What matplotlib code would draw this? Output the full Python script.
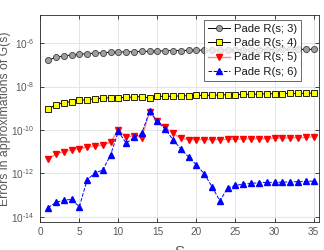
import numpy as np
import matplotlib
matplotlib.use("Agg")
import matplotlib.pyplot as plt

s = list(range(1, 36))

pade3 = [1.66e-7, 2.19e-7, 2.57e-7, 2.88e-7, 3.09e-7, 3.31e-7, 3.47e-7, 3.63e-7, 3.80e-7, 3.89e-7,
         3.98e-7, 4.07e-7, 4.17e-7, 4.2e-7, 4.3e-7, 4.5e-7, 4.6e-7, 4.6e-7, 4.7e-7, 4.7e-7,
         4.8e-7, 4.8e-7, 4.9e-7, 4.9e-7, 5.0e-7, 5.0e-7, 5.0e-7, 5.1e-7, 5.1e-7, 5.1e-7,
         5.2e-7, 5.2e-7, 5.2e-7, 5.2e-7, 5.25e-7]
pade4 = [9.3e-10, 1.45e-9, 1.78e-9, 2.04e-9, 2.29e-9, 2.5e-9, 2.7e-9, 2.95e-9, 3.0e-9, 3.1e-9,
         3.15e-9, 3.3e-9, 3.45e-9, 3.0e-9, 3.55e-9, 3.5e-9, 3.6e-9, 3.7e-9, 3.8e-9, 3.9e-9,
         3.95e-9, 4.0e-9, 4.1e-9, 4.2e-9, 4.3e-9, 4.35e-9, 4.4e-9, 4.5e-9, 4.6e-9, 4.7e-9,
         4.75e-9, 4.8e-9, 4.85e-9, 4.9e-9, 5.0e-9]
pade5 = [4.7e-12, 7.6e-12, 1.0e-11, 1.2e-11, 1.38e-11, 1.58e-11, 1.78e-11, 2.0e-11, 2.75e-11, 1.0e-10,
         4.5e-11, 5.5e-11, 4.3e-11, 7.0e-10, 2.5e-10, 1.35e-10, 6.9e-11, 4.2e-11, 3.6e-11, 3.6e-11,
         3.6e-11, 3.6e-11, 3.6e-11, 3.7e-11, 3.7e-11, 3.8e-11, 3.9e-11, 3.9e-11, 4.0e-11, 4.1e-11,
         4.2e-11, 4.3e-11, 4.4e-11, 4.5e-11, 4.8e-11]
pade6 = [2.6e-14, 4.5e-14, 5.8e-14, 6.2e-14, 2.9e-14, 5.0e-13, 1.05e-12, 1.4e-12, 7.1e-12, 8.5e-11,
         2.45e-11, 4.5e-11, 7.1e-11, 7.1e-10, 2.45e-10, 1.1e-10, 3.5e-11, 1.35e-11, 5.6e-12, 2.4e-12,
         9.5e-13, 2.4e-13, 5.4e-14, 2.1e-13, 2.75e-13, 3.2e-13, 3.4e-13, 3.7e-13, 3.8e-13, 3.8e-13,
         3.9e-13, 4.0e-13, 4.1e-13, 4.2e-13, 4.4e-13]

labels = ["Pade R(s; 3)", "Pade R(s; 4)", "Pade R(s; 5)", "Pade R(s; 6)"]
xticks = [0, 5, 10, 15, 20, 25, 30, 35]
yticks = [1e-14, 1e-12, 1e-10, 1e-8, 1e-6]
yticklabels = [r"$10^{\text{-14}}$", r"$10^{\text{-12}}$", r"$10^{\text{-10}}$",
               r"$10^{\text{-8}}$", r"$10^{\text{-6}}$"]

plt.rcParams['font.family'] = ['Liberation Sans', 'DejaVu Sans']
plt.rcParams['mathtext.fontset'] = 'custom'
plt.rcParams['mathtext.rm'] = 'Liberation Sans'
plt.rcParams['mathtext.it'] = 'Liberation Sans:italic'
plt.rcParams['mathtext.default'] = 'regular'

tc = (0.15, 0.15, 0.15)
lc = (0.35, 0.35, 0.35)
fig = plt.figure(figsize=(3.24, 2.5), dpi=100)
ax = fig.add_axes([0.1244, 0.1108, 0.9846 - 0.1244, 0.94 - 0.1108])

ax.plot(s, pade3, '-', color='black', lw=0.7, marker='o', ms=4.4,
        mfc=(0.62, 0.62, 0.62), mec=(0.25, 0.25, 0.25), mew=0.6, label=labels[0])
ax.plot(s, pade4, '-', color='black', lw=0.7, marker='s', ms=4.0,
        mfc=(1, 1, 0), mec='black', mew=0.6, label=labels[1])
ax.plot(s, pade5, '-', color=(1, 0.55, 0.55), lw=1.0, marker='v', ms=5,
        mfc='red', mec='red', label=labels[2])
ax.plot(s, pade6, '--', color='blue', lw=0.7, marker='^', ms=5,
        mfc='blue', mec='blue', label=labels[3])

ax.set_yscale('log')
ax.set_xlim(0, 35.7)
ax.set_ylim(10**-14.26, 10**-4.7)
ax.set_xticks(xticks)
ax.set_xticklabels([str(v) for v in xticks])
ax.set_yticks(yticks)
ax.set_yticklabels(yticklabels)
ax.yaxis.set_minor_locator(matplotlib.ticker.NullLocator())
ax.grid(True, color=(0.88, 0.88, 0.88), lw=0.6)
ax.set_axisbelow(True)
ax.tick_params(direction='in', length=3, width=0.6, colors=tc, labelsize=7.2,
               top=True, right=True)
ax.tick_params(axis='y', pad=4.5)
ax.tick_params(axis='x', pad=3.5)
ax.tick_params(axis='both', labelcolor=lc)
for sp in ax.spines.values():
    sp.set_color(tc)
    sp.set_linewidth(0.6)

ax.set_ylabel("Errors in approximations of G(s)", fontsize=8.8, color=lc)
ax.yaxis.set_label_coords(-0.106, 0.5)
ax.set_xlabel("S", fontsize=11, color=lc)
ax.xaxis.set_label_coords(0.5, -0.11)

leg = ax.legend(loc='upper right', bbox_to_anchor=(0.935, 0.976), fontsize=8.1,
                frameon=True, fancybox=False, edgecolor=tc,
                handlelength=1.9, handletextpad=0.35, labelspacing=0.38,
                borderpad=0.35, borderaxespad=0.0)
leg.get_frame().set_linewidth(0.6)
for t in leg.get_texts():
    t.set_color((0.1, 0.1, 0.1))

fig.savefig("out.png", dpi=100)
